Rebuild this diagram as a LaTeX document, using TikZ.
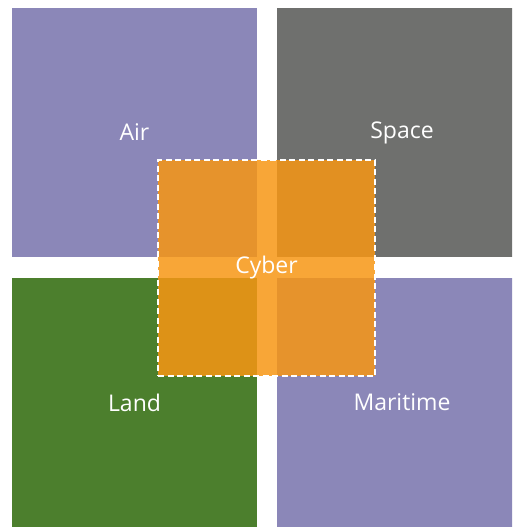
\documentclass[tikz,border=0pt]{standalone}
\usepackage{fontspec}
\setsansfont{Open Sans}
\definecolor{DomainPurple}{RGB}{139,135,184}
\definecolor{DomainGrey}{RGB}{111,112,110}
\definecolor{DomainGreen}{RGB}{76,127,45}
\definecolor{CyberOrange}{RGB}{247,150,20}
\tikzset{
    domain/diagram/.style={
        x=1pt, y=-1pt,
        font=\sffamily\fontsize{23}{27}\selectfont,
        every node/.style={inner sep=0pt, outer sep=0pt}
    },
    domain/box/.style={
        anchor=north west, text=white,
        minimum width=245pt, minimum height=249pt
    },
    domain/wide/.style={domain/box, minimum width=250pt},
    domain/cyber/.style={
        anchor=north west, text=white,
        minimum width=217pt, minimum height=216pt,
        fill=CyberOrange, fill opacity=0.85, text opacity=1,
        draw=white, line width=1.8pt, dash pattern=on 6pt off 3.5pt
    }
}
\begin{document}
\begin{tikzpicture}[domain/diagram]
    \useasboundingbox (0,0) rectangle (512,527);
    \clip (0,0) rectangle (512,527);
    \node[domain/box, fill=DomainPurple] (air) at (12,8) {Air};
    \node[domain/wide, fill=DomainGrey] (space) at (277,8) {Space};
    \node[domain/box, fill=DomainGreen] (land) at (12,278) {Land};
    \node[domain/wide, fill=DomainPurple] (maritime) at (277,278) {Maritime};
    % cyber overlaps all four domains
    \node[domain/cyber] (cyber) at (158,160) {Cyber};
\end{tikzpicture}
\end{document}
